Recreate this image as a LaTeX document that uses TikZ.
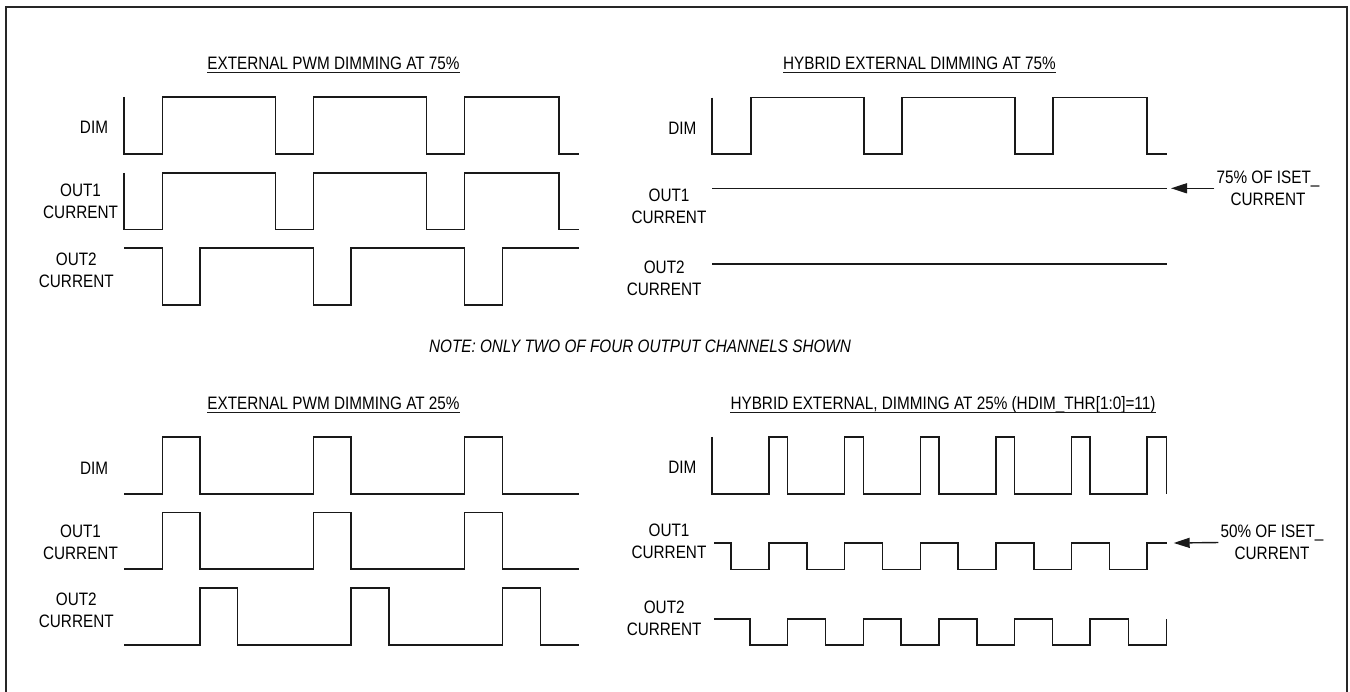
\documentclass[tikz,border=0pt]{standalone}
\usepackage{fontspec}
\setmainfont[FakeStretch=0.85]{Liberation Sans}
\usetikzlibrary{arrows.meta}
\newcommand\lblfont{\fontsize{18}{22}\selectfont}
\tikzset{
  wave/.style={line width=1.4pt, line join=miter, draw=black!90},
  lbl/.style={inner sep=0pt, align=center, font=\lblfont},
  ttl/.style={inner sep=0pt, anchor=base, font=\lblfont},
  uline/.style={line width=1.4pt, draw=black!90},
  frame/.style={line width=2pt, draw=black!85},
  ptr/.style={line width=1.4pt, draw=black!90, -{Triangle[length=16pt,width=10pt]}, shorten <=2pt}
}
\begin{document}
\begin{tikzpicture}[x=1pt,y=-1pt]
\useasboundingbox (0,0) rectangle (1350,692);
\draw[frame] (5.7,720) -- (5.7,6.7) -- (1347,6.7) -- (1347,720);

% ---------- titles ----------
\node[ttl] (tA) at (333.5,69.3) {EXTERNAL PWM DIMMING AT 75\%};
\node[ttl] (tB) at (919.5,69.3) {HYBRID EXTERNAL DIMMING AT 75\%};
\node[ttl] (tC) at (333.5,409.3) {EXTERNAL PWM DIMMING AT 25\%};
\node[ttl] (tD) at (943,409.3) {HYBRID EXTERNAL, DIMMING AT 25\% (HDIM\_THR[1:0]=11)};
\foreach \t in {tA,tB,tC,tD}
  \draw[uline] ([yshift=-3.5pt]\t.base west) -- ([yshift=-3.5pt]\t.base east);

\node[ttl,font=\lblfont\itshape] (note) at (640,352.7) {NOTE: ONLY TWO OF FOUR OUTPUT CHANNELS SHOWN};

% ---------- labels ----------
\node[lbl] (aDim) at (94,127.7) {DIM};
\node[lbl] (aO1) at (80.6,201) {OUT1\\CURRENT};
\node[lbl] (aO2) at (76.3,270.5) {OUT2\\CURRENT};

\node[lbl] (bDim) at (682.4,128) {DIM};
\node[lbl] (bO1) at (669,206.8) {OUT1\\CURRENT};
\node[lbl] (bO2) at (664.2,278) {OUT2\\CURRENT};

\node[lbl] (cDim) at (94.2,468) {DIM};
\node[lbl] (cO1) at (80.5,542) {OUT1\\CURRENT};
\node[lbl] (cO2) at (76.3,610.5) {OUT2\\CURRENT};

\node[lbl] (dDim) at (682.4,467) {DIM};
\node[lbl] (dO1) at (669,541.3) {OUT1\\CURRENT};
\node[lbl] (dO2) at (664.2,618.5) {OUT2\\CURRENT};

% ---------- panel A: external PWM 75% ----------
\draw[wave] (124,97) -- (124,154) -- (162.3,154) -- (162.3,97) -- (275.5,97) -- (275.5,154) -- (313.3,154) -- (313.3,97) -- (426.7,97) -- (426.7,154) -- (464.6,154) -- (464.6,97) -- (559,97) -- (559,154) -- (578.6,154);
\draw[wave] (124,173) -- (124,229.5) -- (162.3,229.5) -- (162.3,173) -- (275.5,173) -- (275.5,229.5) -- (313.3,229.5) -- (313.3,173) -- (426.7,173) -- (426.7,229.5) -- (464.6,229.5) -- (464.6,173) -- (559,173) -- (559,229.5) -- (578.6,229.5);
\draw[wave] (124,248) -- (162.3,248) -- (162.3,305) -- (199.8,305) -- (199.8,248) -- (313.3,248) -- (313.3,305) -- (351,305) -- (351,248) -- (464.6,248) -- (464.6,305) -- (502.5,305) -- (502.5,248) -- (578.6,248);

% ---------- panel B: hybrid 75% ----------
\draw[wave] (712,97.7) -- (712,154) -- (751,154) -- (751,97.7) -- (864,97.7) -- (864,154) -- (902,154) -- (902,97.7) -- (1015,97.7) -- (1015,154) -- (1053,154) -- (1053,97.7) -- (1147,97.7) -- (1147,154) -- (1167,154);
\coordinate (bO1s) at (712,188.3);
\coordinate (bO1e) at (1167,188.3);
\draw[wave] (bO1s) -- (bO1e);
\draw[wave] (712,264) -- (1167,264);
\node[lbl] (bNote) at (1268,188.3) {75\% OF ISET\_\\CURRENT};
\coordinate (bTip) at (1171,188.3);
\draw[ptr] (bNote.west) -- (bTip);

% ---------- panel C: external PWM 25% ----------
\draw[wave] (124,494) -- (162.3,494) -- (162.3,437) -- (199.8,437) -- (199.8,494) -- (313.3,494) -- (313.3,437) -- (351,437) -- (351,494) -- (464.6,494) -- (464.6,437) -- (502.5,437) -- (502.5,494) -- (578.6,494);
\draw[wave] (124,569) -- (162.3,569) -- (162.3,512.7) -- (199.8,512.7) -- (199.8,569) -- (313.3,569) -- (313.3,512.7) -- (351,512.7) -- (351,569) -- (464.6,569) -- (464.6,512.7) -- (502.5,512.7) -- (502.5,569) -- (578.6,569);
\draw[wave] (124,645) -- (199.8,645) -- (199.8,588) -- (237.3,588) -- (237.3,645) -- (351,645) -- (351,588) -- (388.8,588) -- (388.8,645) -- (502.5,645) -- (502.5,588) -- (540.4,588) -- (540.4,645) -- (578.6,645);

% ---------- panel D: hybrid 25% ----------
\draw[wave] (712,437) -- (712,494) -- (769,494) -- (769,437) -- (787.7,437) -- (787.7,494) -- (844.7,494) -- (844.7,437) -- (863.4,437) -- (863.4,494) -- (920.4,494) -- (920.4,437) -- (939,437) -- (939,494) -- (996,494) -- (996,437) -- (1014.7,437) -- (1014.7,494) -- (1071.7,494) -- (1071.7,437) -- (1090,437) -- (1090,494) -- (1147,494) -- (1147,437) -- (1166.6,437) -- (1166.6,494);
\draw[wave] (714,543) -- (731,543) -- (731,569.3) -- (769,569.3) -- (769,543) -- (807,543) -- (807,569.3) -- (844.7,569.3) -- (844.7,543) -- (882.6,543) -- (882.6,569.3) -- (920.4,569.3) -- (920.4,543) -- (958,543) -- (958,569.3) -- (996,569.3) -- (996,543) -- (1034,543) -- (1034,569.3) -- (1071.7,569.3) -- (1071.7,543) -- (1109.6,543) -- (1109.6,569.3) -- (1147,569.3) -- (1147,543) -- (1166.6,543);
\draw[wave] (714,619) -- (750,619) -- (750,645) -- (787.7,645) -- (787.7,619) -- (825.6,619) -- (825.6,645) -- (863.4,645) -- (863.4,619) -- (901,619) -- (901,645) -- (939,645) -- (939,619) -- (977,619) -- (977,645) -- (1014.7,645) -- (1014.7,619) -- (1052.6,619) -- (1052.6,645) -- (1090,645) -- (1090,619) -- (1128.7,619) -- (1128.7,645) -- (1166.6,645) -- (1166.6,619);
\node[lbl] (dNote) at (1272,542.5) {50\% OF ISET\_\\CURRENT};
\coordinate (dTip) at (1173.7,543);
\draw[ptr] (dNote.west) -- (dTip);
\end{tikzpicture}
\end{document}
